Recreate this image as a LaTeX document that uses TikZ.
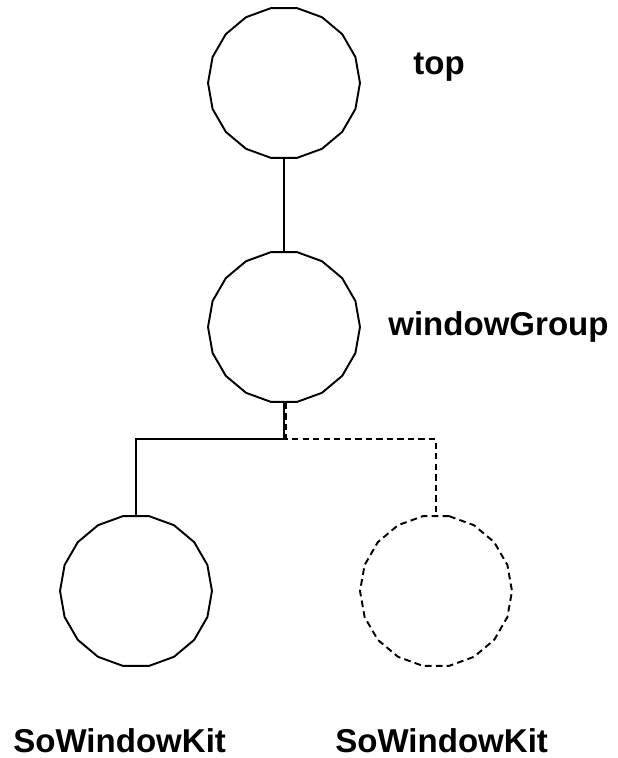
\documentclass[tikz,border=0pt]{standalone}
\usepackage{fontspec}
\setmainfont{Liberation Sans}
\usepackage{tikz}
\usetikzlibrary{shapes}
\tikzstyle{member}=[regular polygon,regular polygon sides=18,draw,line width=1.1pt,minimum size=3.04cm,inner sep=0pt]
\tikzstyle{ghost member}=[member,dash pattern=on 3.8pt off 2.4pt]
\tikzstyle{link}=[draw,line width=1.1pt]
\tikzstyle{ghost link}=[link,dash pattern=on 3.6pt off 2.4pt]
\tikzstyle{tag}=[font=\fontsize{18.8}{22}\selectfont\bfseries,anchor=base west,inner sep=0pt]

\begin{document}
\begin{tikzpicture}[x=0.02cm,y=-0.02cm]
    \useasboundingbox (0,0) rectangle (618,758);
    % scene graph nodes
    \foreach \pos/\name in {{(284,83)/top}, {(284,327)/group}, {(136,591)/kitA}}
        \node[member] (\name) at \pos {};
    \node[ghost member] (kitB) at (436,591) {};
    \coordinate (fork) at (284,439);
    % children of the group
    \path[ghost link] ([xshift=0.04cm]group.south) -- ([xshift=0.04cm]fork) -| (kitB.north);
    \path[link] (top.south) -- (group.north);
    \path[link] (group.south) -- (fork) -| (kitA.north);
    % names
    \node[tag] (topname) at (413,74) {top};
    \node[tag] (groupname) at (388,335) {windowGroup};
    \node[tag] (kitAname) at (13,752) {SoWindowKit};
    \node[tag] (kitBname) at (335,752) {SoWindowKit};
\end{tikzpicture}
\end{document}
